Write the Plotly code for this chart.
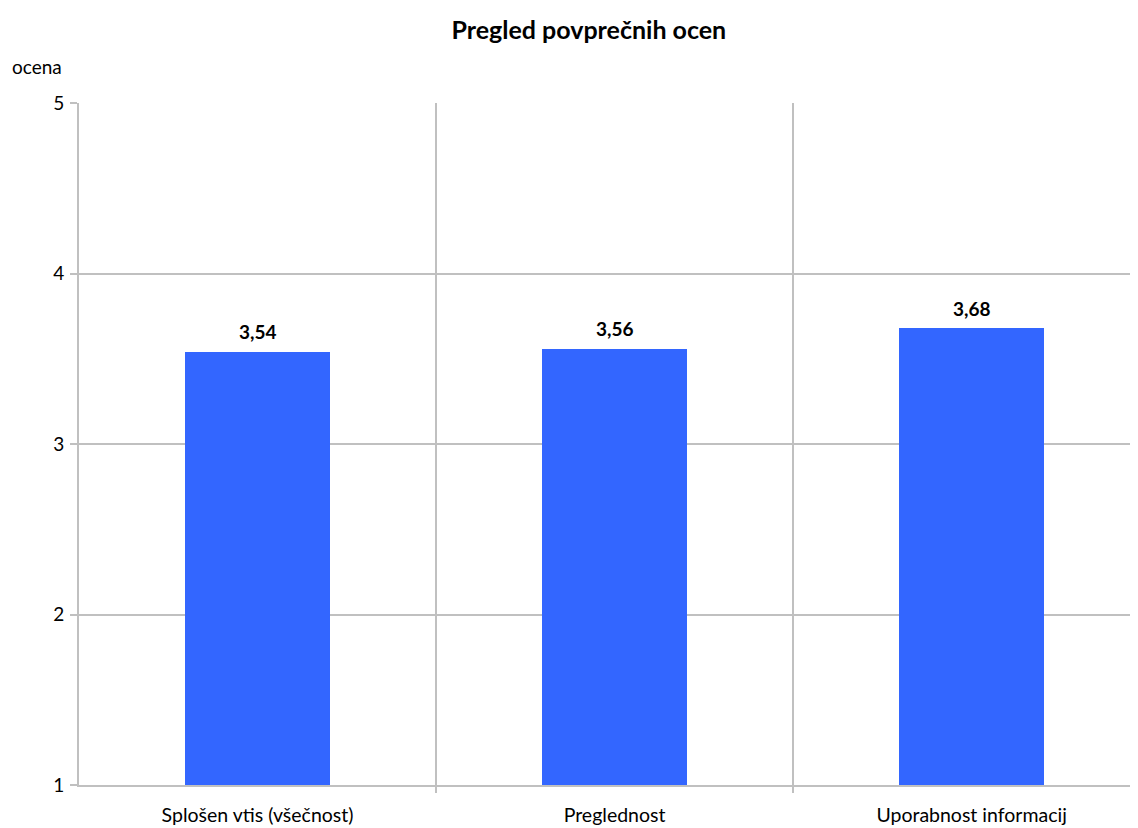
import plotly.graph_objects as go

categories = ["Splošen vtis (všečnost)", "Preglednost", "Uporabnost informacij"]
values = [3.54, 3.56, 3.68]
y_ticks = [1, 2, 3, 4, 5]

title = "Pregled povprečnih ocen"
y_title = "ocena"

font_family = "Lato, 'Open Sans', sans-serif"
grid_color = "#C0C0C0"

xpos = list(range(len(categories)))

fig = go.Figure()
fig.add_trace(go.Bar(
    x=xpos, y=[v - 1 for v in values], base=1,
    width=0.406,
    marker=dict(color="#3366FF", line=dict(width=0)),
    hoverinfo="skip",
))

annotations = [dict(text=y_title, xref="paper", yref="paper", x=-0.0652, y=1.053,
                    xanchor="left", yanchor="middle", showarrow=False,
                    font=dict(family=font_family, size=19, color="#000000"))]
for xi, v in zip(xpos, values):
    annotations.append(dict(
        x=xi, y=v, xref="x", yref="y", text="<b>" + f"{v:.2f}".replace(".", ",") + "</b>",
        showarrow=False, yanchor="middle", xanchor="center", yshift=20,
        font=dict(family=font_family, size=19, color="#000000")))

fig.update_layout(
    width=1130, height=820,
    margin=dict(l=71, r=0, t=95, b=43),
    paper_bgcolor="white", plot_bgcolor="white",
    showlegend=False,
    title=dict(text=f"<b>{title}</b>", x=0.514, xanchor="center", y=0.973, yanchor="middle",
               font=dict(family=font_family, size=25, color="#000000")),
    font=dict(family=font_family, size=19, color="#000000"),
    annotations=annotations,
    bargap=0,
)

fig.update_xaxes(
    range=[-0.5, 2.466],
    tickvals=xpos, ticktext=categories,
    ticks="", showgrid=False,
    showline=True, linecolor=grid_color, linewidth=2,
    minor=dict(tickvals=[0.5, 1.5, 2.5], showgrid=True, gridcolor=grid_color, gridwidth=2,
               ticks="outside", ticklen=6, tickcolor=grid_color, tickwidth=2),
    tickfont=dict(family=font_family, size=19.5),
    ticklabelstandoff=12,
    zeroline=False,
)
fig.update_yaxes(
    range=[1, 5], tickvals=y_ticks,
    showgrid=True, gridcolor=grid_color, gridwidth=2,
    showline=True, linecolor=grid_color, linewidth=2,
    ticks="outside", ticklen=7, tickcolor=grid_color, tickwidth=2,
    tickfont=dict(family=font_family, size=19),
    ticklabelstandoff=2,
    zeroline=False,
)

fig.write_html("out.html")
